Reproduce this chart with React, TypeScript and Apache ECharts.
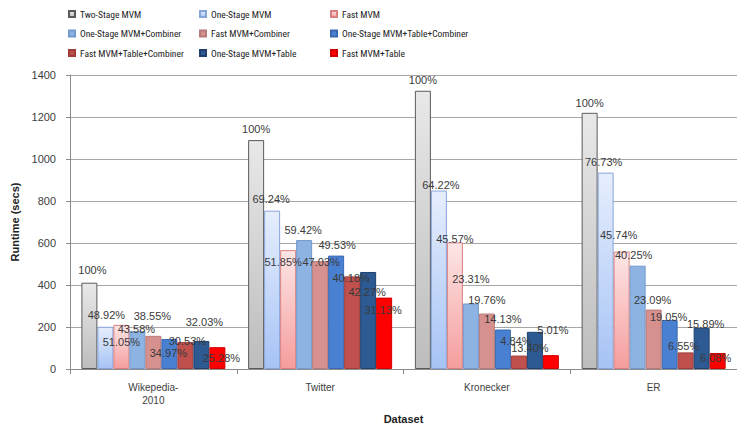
import React, { useEffect, useRef } from "react";
import * as echarts from "echarts";

const categories = ["Wikepedia-\n2010", "Twitter", "Kronecker", "ER"];
const seriesNames = [
  "Two-Stage MVM",
  "One-Stage MVM",
  "Fast MVM",
  "One-Stage MVM+Combiner",
  "Fast MVM+Combiner",
  "One-Stage MVM+Table+Combiner",
  "Fast MVM+Table+Combiner",
  "One-Stage MVM+Table",
  "Fast MVM+Table",
];

const twoStage = [411, 1090, 1325, 1220];
const oneStage = [201, 754, 850, 935];
const fast = [210, 566, 603, 559];
const oneStageComb = [180, 614, 312, 492];
const fastComb = [158, 514, 264, 283];
const oneStageTableComb = [143, 540, 188, 233];
const fastTableComb = [128, 441, 64, 79];
const oneStageTable = [133, 462, 177, 196];
const fastTable = [104, 340, 66, 76];

const pctTwoStage = ["100%", "100%", "100%", "100%"];
const pctOneStage = ["48.92%", "69.24%", "64.22%", "76.73%"];
const pctFast = ["51.05%", "51.85%", "45.57%", "45.74%"];
const pctOneStageComb = ["43.58%", "59.42%", "23.31%", "40.25%"];
const pctFastComb = ["38.55%", "47.03%", "19.76%", "23.09%"];
const pctOneStageTableComb = ["34.97%", "49.53%", "14.13%", "19.05%"];
const pctFastTableComb = ["30.53%", "40.18%", "4.84%", "6.55%"];
const pctOneStageTable = ["32.03%", "42.27%", "13.40%", "15.89%"];
const pctFastTable = ["25.28%", "31.13%", "5.01%", "6.08%"];

const yTicks = [0, 200, 400, 600, 800, 1000, 1200, 1400];

const values = [
  twoStage, oneStage, fast, oneStageComb, fastComb,
  oneStageTableComb, fastTableComb, oneStageTable, fastTable,
];
const pcts = [
  pctTwoStage, pctOneStage, pctFast, pctOneStageComb, pctFastComb,
  pctOneStageTableComb, pctFastTableComb, pctOneStageTable, pctFastTable,
];

// label placement (styling): vertical offset of label centre from bar top, and horizontal shift
const labelDy = [
  [-13, -11, -11, -10],
  [-12, -12, -6, -11],
  [17, 12, -3, -17],
  [-2, -10, -24, -11],
  [-20, 1, -14, -10],
  [14, -11, -11, -3],
  [-1, 2, -15, -6],
  [-19, 20, 16, -4],
  [11, 12, -25, 5],
];
const labelDx = [
  [3, 0, 0, 0],
  [1, -1, 2, -2],
  [0, -5, 0, -3],
  [-1, -1, 0, -4],
  [-1, 1, 0, -1],
  [-1, 1, 0, -1],
  [2, -1, -3, -2],
  [3, -1, -5, 4],
  [4, -1, 2, -2],
];

const grad = (top: string, bottom: string) =>
  new echarts.graphic.LinearGradient(0, 0, 0, 1, [
    { offset: 0, color: top },
    { offset: 1, color: bottom },
  ]);

const styles = [
  { color: grad("#e8e8e8", "#bdbdbd"), borderColor: "#5a5a5a" },
  { color: grad("#e6eefd", "#a6c3f5"), borderColor: "#86a4da" },
  { color: grad("#fde6e6", "#f59d9d"), borderColor: "#d88080" },
  { color: "#8db3e2", borderColor: "#7399cc" },
  { color: "#d6918e", borderColor: "#b87a78" },
  { color: "#4a80d2", borderColor: "#3a68b0" },
  { color: "#c0504d", borderColor: "#a03c3a" },
  { color: "#2d5a93", borderColor: "#1f406e" },
  { color: "#ff0000", borderColor: "#d00000" },
];

const legendFont = "'Liberation Sans Narrow', 'Roboto Condensed', 'Liberation Sans', sans-serif";
const font = "'Liberation Sans', Arial, sans-serif";

export default function App() {
  const ref = useRef<HTMLDivElement>(null);
  useEffect(() => {
    if (!ref.current) return;
    const chart = echarts.init(ref.current, null, { renderer: "svg" });
    const mkLegend = (left: number, items: string[]) => ({
      orient: "vertical",
      left,
      top: 8,
      padding: 0,
      itemGap: 7.5,
      itemWidth: 6,
      itemHeight: 6,
      icon: "rect",
      data: items,
      textStyle: { fontSize: 9.5, fontFamily: legendFont, color: "#222", lineHeight: 12 },
    });
    const barSeries = seriesNames.map((name, s) => ({
      name,
      type: "bar",
      xAxisIndex: 0,
      yAxisIndex: 0,
      barWidth: 16,
      barGap: "0%",
      z: 2,
      itemStyle: { ...styles[s], borderWidth: 1 },
      data: values[s],
    }));
    const labelSeries = seriesNames.map((name, s) => ({
      name: name + " label",
      type: "bar",
      xAxisIndex: 1,
      yAxisIndex: 1,
      barWidth: 16,
      barGap: "0%",
      z: 5,
      silent: true,
      itemStyle: { color: "rgba(0,0,0,0)", borderWidth: 0 },
      label: {
        show: true,
        position: "top",
        distance: 0,
        fontSize: 11,
        fontFamily: font,
        color: "#3a3a3a",
        textBorderWidth: 0,
      },
      data: values[s].map((v, i) => ({
        value: v,
        label: {
          formatter: pcts[s][i],
          offset: [labelDx[s][i], labelDy[s][i] + 5.5],
        },
      })),
    }));
    chart.setOption({
      animation: false,
      backgroundColor: "#ffffff",
      legend: [
        mkLegend(68, [seriesNames[0], seriesNames[3], seriesNames[6]]),
        mkLegend(199, [seriesNames[1], seriesNames[4], seriesNames[7]]),
        mkLegend(330, [seriesNames[2], seriesNames[5], seriesNames[8]]),
      ],
      grid: { left: 70, right: -4, top: 75, bottom: 61, containLabel: false },
      xAxis: [
        {
          type: "category",
          data: categories,
          name: "Dataset",
          nameLocation: "middle",
          nameGap: 44,
          nameTextStyle: { fontSize: 11, fontWeight: "bold", fontFamily: font, color: "#222" },
          axisLine: { show: true, lineStyle: { color: "#8c8c8c" } },
          axisTick: { show: true, alignWithLabel: false, length: 5, lineStyle: { color: "#8c8c8c" } },
          axisLabel: { fontSize: 10, fontFamily: font, color: "#404040", margin: 12, lineHeight: 13 },
        },
        { type: "category", data: categories, show: false },
      ],
      yAxis: [
        {
          type: "value",
          min: yTicks[0],
          max: yTicks[yTicks.length - 1],
          interval: 200,
          name: "Runtime (secs)",
          nameLocation: "middle",
          nameGap: 40,
          nameTextStyle: { fontSize: 11, fontWeight: "bold", fontFamily: font, color: "#222" },
          axisLine: { show: true, lineStyle: { color: "#8c8c8c" } },
          axisTick: { show: true, length: 4, lineStyle: { color: "#8c8c8c" } },
          axisLabel: {
            fontSize: 11,
            fontFamily: font,
            color: "#404040",
            margin: 14,
            formatter: (v: number) => String(v),
          },
          splitLine: { show: true, lineStyle: { color: "#a6a6a6" } },
        },
        {
          type: "value",
          min: yTicks[0],
          max: yTicks[yTicks.length - 1],
          interval: 200,
          show: false,
          splitLine: { show: false },
        },
      ],
      series: [...barSeries, ...labelSeries],
    });
    return () => chart.dispose();
  }, []);
  return (
    <div
      ref={ref}
      style={{ position: "fixed", left: 0, top: 0, width: 737, height: 430 }}
    />
  );
}
